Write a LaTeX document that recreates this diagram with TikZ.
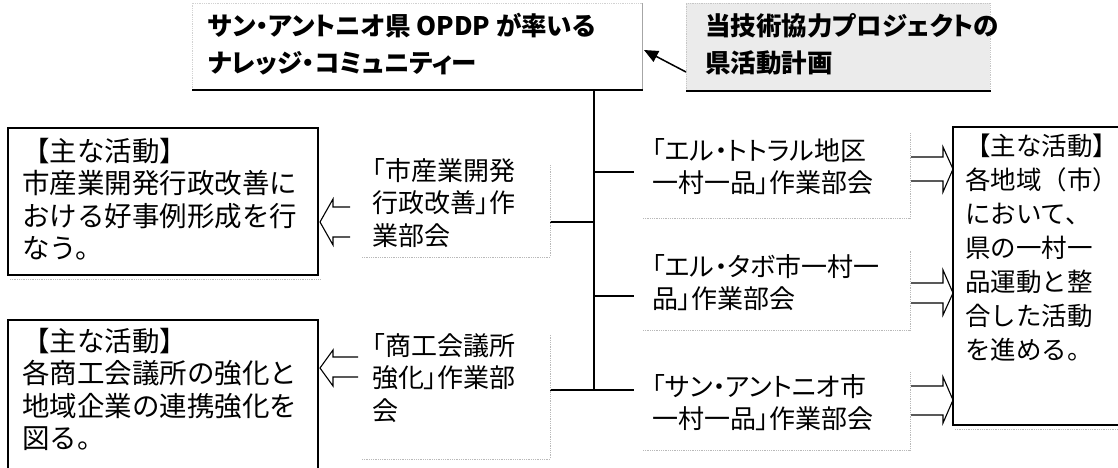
\documentclass[tikz,border=0pt]{standalone}
\usepackage{fontspec}
\setmainfont{Noto Sans CJK JP}
\newfontfamily\jpp[RawFeature=+palt]{Noto Sans CJK JP}
\usetikzlibrary{arrows.meta,calc}
\begin{document}
\begin{tikzpicture}[x=1pt,y=-1pt,
  boxtext/.style={anchor=north west,inner sep=0pt,align=left,font=\fontsize{27.5}{32.5}\selectfont},
  rboxtext/.style={anchor=north west,inner sep=0pt,align=left,font=\fontsize{25.5}{34}\selectfont},
  labeltext/.style={anchor=north west,inner sep=0pt,align=left,font=\jpp\fontsize{26}{32.5}\selectfont},
  toptext/.style={anchor=north west,inner sep=0pt,align=left,font=\jpp\bfseries\fontsize{25.5}{37}\selectfont},
  actbox/.style={draw=black,line width=1.3pt},
  shadowdots/.style={draw=gray!55,densely dotted,line width=0.8pt},
  tree/.style={line width=1.3pt},
  blockarrow/.style={line width=1.1pt,line join=miter},
  linkarrow/.style={line width=1.5pt,-{Triangle[length=14pt,width=12pt]}}
]
\useasboundingbox (0,0) rectangle (1118,467);
\clip (0,0) rectangle (1118,467);

% ---- top boxes
\fill[white] (192,3) rectangle (642,90);
\draw[gray!35,densely dotted,line width=0.8pt] (642,90) -- (192,90) -- (192,3) -- (642,3);
\draw[gray!70,line width=0.8pt] (642,3) -- (642,90);
\draw[line width=2.6pt] (192,90) -- (643,90);
\node[toptext] (top1) at (208,13) {サン・アントニオ県 OPDP が率いる\\ナレッジ・コミュニティー};

\fill[gray!16] (686,3) rectangle (990,91);
\draw[gray!45,densely dotted,line width=0.8pt] (686,91) -- (686,3) -- (990,3) -- (990,91);
\draw[line width=2.6pt] (686,91) -- (991,91);
\node[toptext] (top2) at (705,13) {当技術協力プロジェクトの\\県活動計画};

\coordinate (lkA) at (686,72);
\coordinate (lkB) at (644,50);
\draw[linkarrow] (lkA) -- (lkB);

% ---- tree
\coordinate (t0) at (594,90);
\coordinate (t1) at (594,390);
\coordinate (bR1) at (634,172);
\coordinate (bL1) at (550,222);
\coordinate (bR2) at (634,296);
\coordinate (bL2) at (550,390);
\coordinate (bR3) at (634,390);
\draw[tree] (t0) -- (t1);
\draw[tree] (t0 |- bR1) -- (bR1);
\draw[tree] (bL1) -- (t0 |- bL1);
\draw[tree] (t0 |- bR2) -- (bR2);
\draw[tree] (bL2) -- (bR3);

% ---- left activity boxes
\draw[actbox] (8,128) rectangle (318,275);
\draw[shadowdots] (10,279) -- (320,279);
\node[boxtext] (act1) at (22,138) {【主な活動】\\市産業開発行政改善に\\おける好事例形成を行\\なう。};

\draw[actbox] (8,480) -- (8,320) -- (318,320) -- (318,480);
\node[boxtext] (act2) at (22,328) {【主な活動】\\各商工会議所の強化と\\地域企業の連携強化を\\図る。};

% ---- right activity box
\draw[actbox] (1125,127) -- (953,127) -- (953,425) -- (1125,425);
\draw[shadowdots] (955,429) -- (1118,429);
\node[rboxtext] (act3) at (965,134) {【主な活動】\\各地域（市）\\において、\\県の一村一\\品運動と整\\合した活動\\を進める。};

% ---- middle labels
\node[labeltext] (m1) at (372,158) {「市産業開発\\行政改善」作\\業部会};
\draw[shadowdots] (362,257) -- (550,257) -- (550,165);
\node[labeltext] (m2) at (372,333) {「商工会議所\\強化」作業部\\会};
\draw[shadowdots] (362,459) -- (550,459) -- (550,335);

\node[labeltext] (r1) at (652,138) {「エル・トトラル地区\\一村一品」作業部会};
\draw[shadowdots] (643,218) -- (910,218) -- (910,133);
\node[labeltext] (r2) at (652,254) {「エル・タボ市一村一\\品」作業部会};
\draw[shadowdots] (643,330) -- (910,330) -- (910,250);
\node[labeltext] (r3) at (652,374) {「サン・アントニオ市\\一村一品」作業部会};
\draw[shadowdots] (643,450) -- (910,450) -- (910,372);

% ---- block arrows (left)
\draw[blockarrow] (350,207) -- (333,207) -- (333,199) -- (320,222) -- (333,245) -- (333,237) -- (350,237);
\draw[blockarrow] (358,357) -- (333,357) -- (333,350) -- (320,368) -- (333,386) -- (333,377) -- (358,377);
% ---- block arrows (right)
\draw[blockarrow] (911,157) -- (943,157) -- (943,147) -- (953,169) -- (943,192) -- (943,181) -- (911,181);
\draw[blockarrow] (911,283) -- (943,283) -- (943,270) -- (953,293) -- (943,315) -- (943,303) -- (911,303);
\draw[blockarrow] (911,386) -- (943,386) -- (943,377) -- (953,400) -- (943,423) -- (943,415) -- (911,415);
\end{tikzpicture}
\end{document}
